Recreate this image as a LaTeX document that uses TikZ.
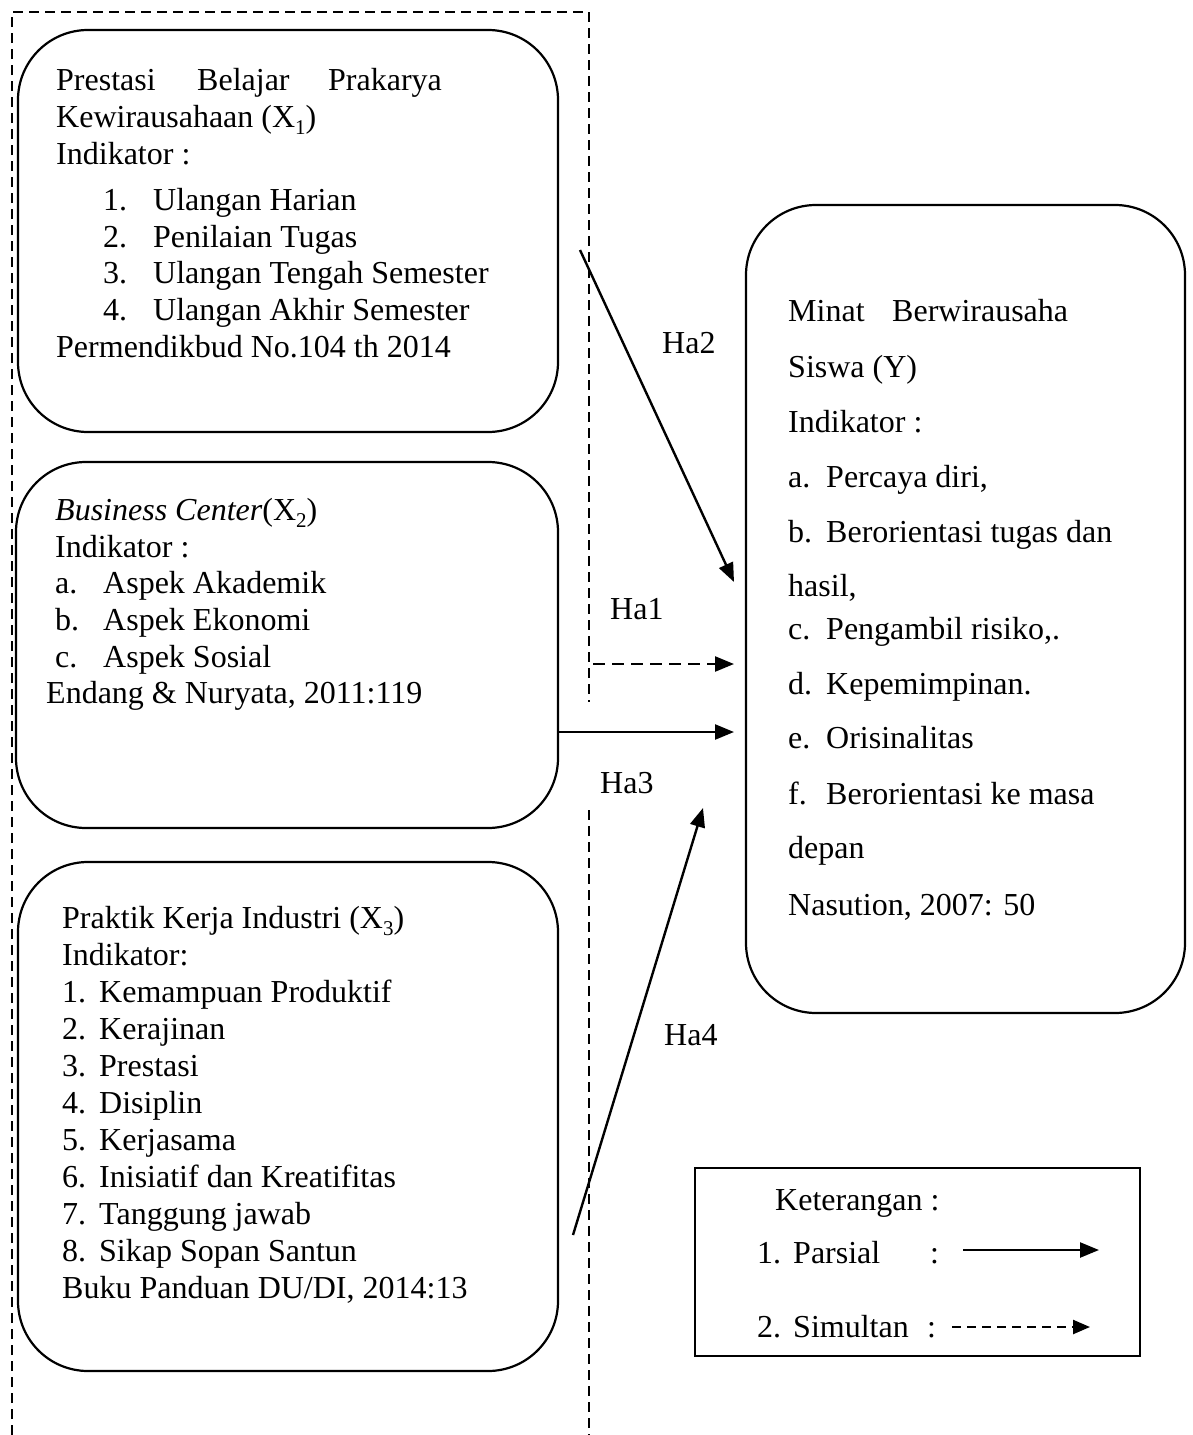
\documentclass[tikz,border=0pt]{standalone}
\usepackage{fontspec}
\setmainfont{Liberation Serif}
\usetikzlibrary{arrows.meta}
\newcommand{\sbs}[1]{\raisebox{-0.22em}{\fontsize{21}{21}\selectfont #1}}
\tikzset{
  rbox/.style={draw, line width=2.2pt, rounded corners=70pt, inner sep=0pt},
  lgbox/.style={draw, line width=2pt, inner sep=0pt},
  txt/.style={anchor=base west, inner sep=0pt, font=\fontsize{32}{37}\selectfont},
  border/.style={line width=1.6pt, dash pattern=on 10pt off 6pt},
  arr/.style={line width=2.4pt, -{Triangle[length=19pt,width=15pt]}},
  darr/.style={line width=2.4pt, dash pattern=on 12pt off 7pt, -{Triangle[length=19pt,width=15pt]}},
  ldarr/.style={line width=2.4pt, dash pattern=on 9pt off 6pt, -{Triangle[length=17pt,width=14pt]}}
}
\begin{document}
\begin{tikzpicture}[x=1pt,y=-1pt]
\useasboundingbox (0,0) rectangle (1192,1435);
% dashed group border
\draw[border] (12,1435) -- (12,12) -- (589,12) -- (589,702);
\draw[border] (589,810) -- (589,1435);
% boxes
\node[rbox, minimum width=540pt, minimum height=402pt] (bx1) at (288,231) {};
\node[rbox, minimum width=542pt, minimum height=366pt] (bx2) at (287,645) {};
\node[rbox, minimum width=540pt, minimum height=509pt] (bx3) at (288,1116.5) {};
\node[rbox, minimum width=439pt, minimum height=808pt] (by) at (965.5,609) {};
\node[lgbox, minimum width=445pt, minimum height=188pt] (lg) at (917.5,1262) {};
% box 1 text
\node[txt] (a1) at (56,90) {Prestasi};
\node[txt] (a2) at (197,90) {Belajar};
\node[txt] (a3) at (328,90) {Prakarya};
\node[txt] (a4) at (56,127) {Kewirausahaan (X\sbs{1})};
\node[txt] (a5) at (56,164) {Indikator :};
\node[txt] (a6n) at (103,210) {1.};
\node[txt] (a6) at (153,210) {Ulangan Harian};
\node[txt] (a7n) at (103,247) {2.};
\node[txt] (a7) at (153,247) {Penilaian Tugas};
\node[txt] (a8n) at (103,283) {3.};
\node[txt] (a8) at (153,283) {Ulangan Tengah Semester};
\node[txt] (a9n) at (103,320) {4.};
\node[txt] (a9) at (153,320) {Ulangan Akhir Semester};
\node[txt] (a10) at (56,357) {Permendikbud No.104 th 2014};
% box 2 text
\node[txt] (b1) at (55,520) {\textit{Business Center}(X\sbs{2})};
\node[txt] (b2) at (55,557) {Indikator :};
\node[txt] (b3n) at (55,593) {a.};
\node[txt] (b3) at (103,593) {Aspek Akademik};
\node[txt] (b4n) at (55,630) {b.};
\node[txt] (b4) at (103,630) {Aspek Ekonomi};
\node[txt] (b5n) at (55,667) {c.};
\node[txt] (b5) at (103,667) {Aspek Sosial};
\node[txt] (b6) at (46,703) {Endang \& Nuryata, 2011:119};
% box 3 text
\node[txt] (c1) at (62,928) {Praktik Kerja Industri (X\sbs{3})};
\node[txt] (c2) at (62,965) {Indikator:};
\foreach \n/\t [count=\i from 0] in {1./Kemampuan Produktif, 2./Kerajinan, 3./Prestasi, 4./Disiplin, 5./Kerjasama, 6./Inisiatif dan Kreatifitas, 7./Tanggung jawab, 8./Sikap Sopan Santun}{
  \node[txt] (cn\i) at (62,1002+37*\i) {\n};
  \node[txt] (ct\i) at (99,1002+37*\i) {\t};
}
\node[txt] (c12) at (62,1298) {Buku Panduan DU/DI, 2014:13};
% Y box text
\node[txt] (y1) at (788,321) {Minat};
\node[txt] (y1b) at (892,321) {Berwirausaha};
\node[txt] (y2) at (788,377) {Siswa (Y)};
\node[txt] (y3) at (788,432) {Indikator :};
\node[txt] (y4n) at (788,487) {a.};
\node[txt] (y4) at (826,487) {Percaya diri,};
\node[txt] (y5n) at (788,542) {b.};
\node[txt] (y5) at (826,542) {Berorientasi tugas dan};
\node[txt] (y6) at (788,596) {hasil,};
\node[txt] (y7n) at (788,639) {c.};
\node[txt] (y7) at (826,639) {Pengambil risiko,.};
\node[txt] (y8n) at (788,694) {d.};
\node[txt] (y8) at (826,694) {Kepemimpinan.};
\node[txt] (y9n) at (788,748) {e.};
\node[txt] (y9) at (826,748) {Orisinalitas};
\node[txt] (y10n) at (788,804) {f.};
\node[txt] (y10) at (826,804) {Berorientasi ke masa};
\node[txt] (y11) at (788,858) {depan};
\node[txt] (y12) at (788,915) {Nasution, 2007: 50};
% hypothesis labels
\node[txt] (h2) at (662,353) {Ha2};
\node[txt] (h1) at (610,619) {Ha1};
\node[txt] (h3) at (600,793) {Ha3};
\node[txt] (h4) at (664,1045) {Ha4};
% arrows
\coordinate (s2) at (580,250);
\coordinate (e2) at (734,582);
\coordinate (s1) at (593,664);
\coordinate (e1) at (734,664);
\coordinate (s3) at (bx2.east |- 0,732);
\coordinate (e3) at (734,732);
\coordinate (s4) at (573,1235);
\coordinate (e4) at (703,808);
\draw[arr] (s2) -- (e2);
\draw[darr] (s1) -- (e1);
\draw[arr] (s3) -- (e3);
\draw[arr] (s4) -- (e4);
% legend
\node[txt] (l1) at (775,1210) {Keterangan :};
\node[txt] (l2n) at (757,1263) {1.};
\node[txt] (l2) at (793,1263) {Parsial};
\node[txt] (l2c) at (930,1263) {:};
\node[txt] (l3n) at (757,1337) {2.};
\node[txt] (l3) at (793,1337) {Simultan};
\node[txt] (l3c) at (927,1337) {:};
\coordinate (lp1) at (963,1250);
\coordinate (lp2) at (1099,1250);
\coordinate (ld1) at (952,1327);
\coordinate (ld2) at (1090,1327);
\draw[arr] (lp1) -- (lp2);
\draw[ldarr] (ld1) -- (ld2);
\end{tikzpicture}
\end{document}
